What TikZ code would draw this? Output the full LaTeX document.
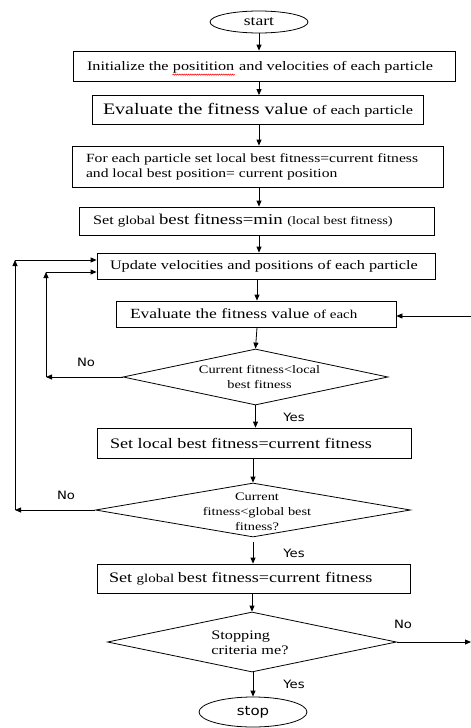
\documentclass[tikz,border=0pt]{standalone}
\usepackage{fontspec}
\setmainfont{Liberation Serif}[FakeStretch=1.25]
\newfontfamily\lbl{DejaVu Sans}[FakeStretch=1.15]
\usetikzlibrary{shapes.geometric,arrows.meta,decorations.pathmorphing}
\newcommand\fs[1]{\fontsize{#1}{15}\selectfont}
\begin{document}
\begin{tikzpicture}[x=1pt,y=-1pt,
  line width=0.8pt,
  box/.style={draw, rectangle, inner sep=0pt},
  dia/.style={draw, diamond, inner sep=0pt},
  oval/.style={draw, ellipse, inner sep=0pt},
  txt/.style={inner sep=0pt, anchor=west},
  dtxt/.style={inner sep=0pt, align=center, font=\fontsize{11.5}{14.8}\selectfont},
  arr/.style={-{Triangle[length=6pt,width=5pt]}},
  lab/.style={font=\lbl\fontsize{11.5}{13}\selectfont, inner sep=0pt}
]
\useasboundingbox (0,0) rectangle (471,728);

% shapes
\node[oval, minimum width=98pt, minimum height=22pt] (start) at (259,22) {\fs{14}start};
\node[box, minimum width=382pt, minimum height=30pt] (b1) at (264,66) {};
\node[box, minimum width=331pt, minimum height=29pt] (b2) at (257.5,110) {};
\node[box, minimum width=371pt, minimum height=41pt] (b3) at (257.5,166.5) {};
\node[box, minimum width=355pt, minimum height=28pt] (b4) at (256.5,221) {};
\node[box, minimum width=338pt, minimum height=26pt] (b5) at (266,266) {};
\node[box, minimum width=280pt, minimum height=26pt] (b6) at (256,314) {};
\node[dia, minimum width=265pt, minimum height=56pt] (d1) at (255.5,377) {};
\node[box, minimum width=314pt, minimum height=30pt] (b7) at (254,443) {};
\node[dia, minimum width=315pt, minimum height=54pt] (d2) at (253,510) {};
\node[box, minimum width=313pt, minimum height=29pt] (b8) at (253.5,578.5) {};
\node[dia, minimum width=289pt, minimum height=60pt] (d3) at (252,642) {};
\node[oval, minimum width=108pt, minimum height=30pt] (stop) at (253,712) {\lbl\fontsize{13}{15}\selectfont stop};

% texts
\node[txt] (t1a) at ([xshift=14pt]b1.west) {\fs{13}Initialize the};
\node[inner sep=0pt, anchor=base west] (t1b) at ([xshift=3.5pt]t1a.base east) {\fs{13}positition};
\node[inner sep=0pt, anchor=base west] (t1c) at ([xshift=4pt]t1b.base east) {\fs{13}and velocities of each particle};
\draw[red, line width=0.5pt, decorate, decoration={snake, amplitude=0.7pt, segment length=2.2pt}]
  ([yshift=-1pt]t1b.south west) -- ([yshift=-1pt]t1b.south east);
\node[txt] (t2) at ([xshift=11pt]b2.west) {{\fs{16}Evaluate the fitness value }{\fs{13}of each particle}};
\node[txt, align=left, font=\fontsize{12.5}{15}\selectfont] (t3) at ([xshift=14pt]b3.west)
  {For each particle set local best fitness=current fitness\\and local best position= current position};
\node[txt] (t4) at ([xshift=14pt]b4.west) {{\fs{13}Set }{\fs{12}global }{\fs{15}best fitness=min }{\fs{11.5}(local best fitness)}};
\node[txt] (t5) at ([xshift=13pt]b5.west) {\fs{13}Update velocities and positions of each particle};
\node[txt] (t6) at ([xshift=14pt]b6.west) {{\fs{14}Evaluate the fitness value }{\fs{12}of each}};
\node[dtxt] (t7) at (259.5,377) {Current fitness<local\\best fitness};
\node[txt] (t8) at ([xshift=13pt]b7.west) {\fs{14.5}Set local best fitness=current fitness};
\node[dtxt] (t9) at (257,512) {Current\\fitness<global best\\fitness?};
\node[txt] (t10) at ([xshift=12pt]b8.west) {{\fs{14.5}Set }{\fs{12}global }{\fs{14.5}best fitness=current fitness}};
\node[txt, align=left, font=\fontsize{13}{15}\selectfont] (t11) at (211,643) {Stopping\\criteria me?};

% column coordinates
\coordinate (cA) at (259,0);
\coordinate (cB) at (257,0);

% main flow
\draw[arr] (start.south) -- (start.south |- b1.north);
\draw[arr] (cA |- b1.south) -- (cA |- b2.north);
\draw[arr] (cA |- b2.south) -- (cA |- b3.north);
\draw[arr] (cA |- b3.south) -- (cA |- b4.north);
\draw[arr] (cA |- b4.south) -- (cA |- b5.north);
\draw[arr] (cB |- b5.south) -- (cB |- b6.north);
\draw[arr] (cB |- b6.south) -- (d1.north);
\draw[arr] (d1.south) -- (d1.south |- b7.north);
\draw[arr] (b7.south -| d2.north) -- (d2.north);
\draw[arr, shorten <=5pt] (d2.south) -- (d2.south |- b8.north);
\draw[arr] (b8.south -| d3.north) -- (d3.north);
\draw[arr] (d3.south -| stop.north) -- (stop.north);

% loops
\coordinate (L1) at (46,377);
\coordinate (L1t) at (46,272);
\draw[arr] (d1.west) -- (L1);
\draw[arr] (L1) -- (L1t);
\draw[arr] (L1t) -- (L1t -| b5.west);
\coordinate (L2) at (15,510);
\coordinate (L2t) at (15,260);
\draw[arr] (d2.west) -- (L2);
\draw[arr] (L2) -- (L2t);
\draw[arr] (L2t) -- (L2t -| b5.west);
\coordinate (R1) at (471,316);
\draw[arr] (R1) -- (R1 -| b6.east);
\coordinate (R2) at (471,642);
\draw[arr] (d3.east) -- (R2);

% labels
\node[lab] (no1) at (86,362) {No};
\node[lab] (no2) at (66,495) {No};
\node[lab] (no3) at (403,624) {No};
\node[lab] (yes1) at (294,417) {Yes};
\node[lab] (yes2) at (294,553) {Yes};
\node[lab] (yes3) at (294,684) {Yes};
\end{tikzpicture}
\end{document}
